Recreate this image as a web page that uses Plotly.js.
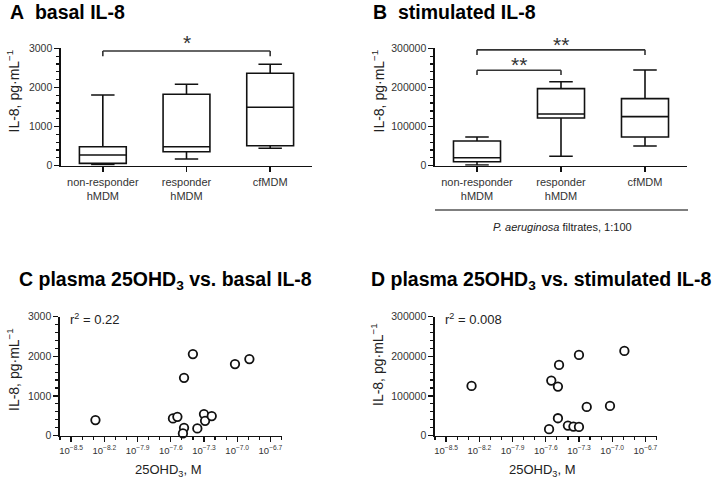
<!DOCTYPE html>
<html>
<head>
<meta charset="utf-8">
<script src="https://cdn.plot.ly/plotly-3.0.1.min.js"></script>
<style>html,body{margin:0;padding:0;background:#fff;}#chart{width:712px;height:479px;}</style>
</head>
<body>
<div id="chart"></div>
<script>
// ---- Data ----
const groups = ['non-responder<br>hMDM', 'responder<br>hMDM', 'cfMDM'];

// A: basal IL-8 (pg/mL) box summaries
const basalMin    = [30, 171, 445];
const basalQ1     = [60, 358, 511];
const basalMedian = [273, 486, 1492];
const basalQ3     = [486, 1825, 2361];
const basalMax    = [1806, 2080, 2592];

// B: stimulated IL-8 (pg/mL) box summaries
const stimMin    = [1800, 24000, 50300];
const stimQ1     = [10200, 122000, 73400];
const stimMedian = [20500, 132200, 125300];
const stimQ3     = [63000, 196900, 171300];
const stimMax    = [73500, 214700, 244600];

// C: plasma 25OHD3 (log10 M) vs basal IL-8
const vitD_C   = [-8.28, -7.58, -7.54, -7.48, -7.40, -7.48, -7.49, -7.36, -7.30, -7.29, -7.23, -7.02, -6.89];
const basalC   = [391, 433, 474, 1457, 2054, 197, 55, 181, 542, 373, 492, 1802, 1928];

// D: plasma 25OHD3 (log10 M) vs stimulated IL-8
const vitD_D   = [-8.27, -7.57, -7.55, -7.48, -7.49, -7.49, -7.40, -7.35, -7.30, -7.30, -7.23, -7.02, -6.89];
const stimD    = [125300, 16100, 138700, 178200, 123500, 43800, 25200, 22700, 21900, 203400, 72400, 74900, 213500];

// log-axis ticks: first tick exponent and spacing (labels drawn as 10^exponent)
const logTickStart = -8.5;
const logTickStep = 0.3;

const rSqC = '0.22';
const rSqD = '0.008';

// ---- Styling ----
const W = 712, H = 479;
const FONT = 'Liberation Sans, Arial, Helvetica, sans-serif';
const INK = '#111';
const TICKC = '#333';
const px = v => v / W;
const py = v => 1 - v / H;

const boxStyle = {
  type: 'box', boxpoints: false, width: 0.56, whiskerwidth: 0.5,
  fillcolor: 'rgba(255,255,255,0)', line: {color: INK, width: 1.6},
  showlegend: false, hoverinfo: 'skip'
};
const idx = groups.map((g, i) => i);

const traces = [
  Object.assign({}, boxStyle, {x: idx, q1: basalQ1, median: basalMedian, q3: basalQ3,
    lowerfence: basalMin, upperfence: basalMax, xaxis: 'x', yaxis: 'y'}),
  Object.assign({}, boxStyle, {x: idx, q1: stimQ1, median: stimMedian, q3: stimQ3,
    lowerfence: stimMin, upperfence: stimMax, xaxis: 'x2', yaxis: 'y2'}),
  {type: 'scatter', mode: 'markers', x: vitD_C, y: basalC, xaxis: 'x3', yaxis: 'y3',
    marker: {symbol: 'circle', size: 8.5, color: '#fff', line: {color: INK, width: 1.8}},
    showlegend: false, cliponaxis: false, hoverinfo: 'skip'},
  {type: 'scatter', mode: 'markers', x: vitD_D, y: stimD, xaxis: 'x4', yaxis: 'y4',
    marker: {symbol: 'circle', size: 8.5, color: '#fff', line: {color: INK, width: 1.8}},
    showlegend: false, cliponaxis: false, hoverinfo: 'skip'}
];

const tickFont = {family: FONT, size: 10.5, color: TICKC};
const minorTicks = {ticks: 'outside', ticklen: 3, tickwidth: 1.2, tickcolor: INK, showgrid: false};
const baseAxis = {
  showline: true, linecolor: INK, linewidth: 1.6, zeroline: false, showgrid: false,
  ticks: 'outside', ticklen: 5, tickwidth: 1.4, tickcolor: INK, tickfont: tickFont, fixedrange: true
};
const catX = (domain, anchor) => Object.assign({}, baseAxis, {
  domain: domain, anchor: anchor, range: [-0.5, 2.5],
  tickmode: 'array', tickvals: idx, ticktext: groups,
  tickfont: {family: FONT, size: 11, color: TICKC}
});
const logX = (domain, anchor) => Object.assign({}, baseAxis, {
  domain: domain, anchor: anchor, range: [-8.6, -6.6],
  tickmode: 'linear', tick0: logTickStart, dtick: logTickStep, tickformat: '.1f',
  tickprefix: '10<sup>', ticksuffix: '</sup>',
  tickfont: {family: FONT, size: 9.5, color: TICKC},
  minor: Object.assign({tick0: -8.6, dtick: 0.1}, minorTicks)
});
const valY = (domain, anchor, top) => Object.assign({}, baseAxis, {
  domain: domain, anchor: anchor, range: [0, top],
  tickmode: 'linear', tick0: 0, dtick: top / 3, tickformat: 'd',
  minor: Object.assign({tick0: 0, dtick: top / 15}, minorTicks)
});

const yTopRow = [py(165.7), py(48.3)];
const yBotRow = [py(435.6), py(316.6)];

const layout = {
  width: W, height: H, autosize: false,
  margin: {l: 0, r: 0, t: 0, b: 0, pad: 0},
  paper_bgcolor: '#fff', plot_bgcolor: 'rgba(0,0,0,0)',
  showlegend: false,
  font: {family: FONT, color: INK},
  xaxis:  catX([px(61), px(312)], 'y'),
  yaxis:  valY(yTopRow, 'x', 3000),
  xaxis2: catX([px(435), px(687)], 'y2'),
  yaxis2: valY(yTopRow, 'x2', 300000),
  xaxis3: logX([px(60), px(281.5)], 'y3'),
  yaxis3: valY(yBotRow, 'x3', 3000),
  xaxis4: logX([px(435), px(656.5)], 'y4'),
  yaxis4: valY(yBotRow, 'x4', 300000),
  shapes: [],
  annotations: []
};

// significance brackets
function bracket(xa, ya, x0, x1, yTop, yLow) {
  const st = {type: 'line', xref: xa, yref: ya, line: {color: '#333', width: 1.6}};
  layout.shapes.push(Object.assign({}, st, {x0: x0, x1: x0, y0: yLow, y1: yTop}));
  layout.shapes.push(Object.assign({}, st, {x0: x0, x1: x1, y0: yTop, y1: yTop}));
  layout.shapes.push(Object.assign({}, st, {x0: x1, x1: x1, y0: yTop, y1: yLow}));
}
bracket('x', 'y', 0, 2, 2930, 2800);
bracket('x2', 'y2', 0, 2, 296000, 283000);
bracket('x2', 'y2', 0, 1, 244000, 232000);

// significance stars (x in category units, y in page pixels)
function star(xa, x, ypix, t) {
  layout.annotations.push({xref: xa, yref: 'paper', x: x, y: py(ypix), text: t, showarrow: false,
    xanchor: 'center', yanchor: 'middle', font: {family: FONT, size: 21, color: '#333'}});
}
star('x', 1, 42.5, '*');
star('x2', 1, 44, '**');
star('x2', 0.5, 64, '**');

// P. aeruginosa line and label under B
layout.shapes.push({type: 'line', xref: 'paper', yref: 'paper', x0: px(435), x1: px(688), y0: py(210), y1: py(210),
  line: {color: '#555', width: 1.6}});

function textAt(x, y, text, size, opts) {
  layout.annotations.push(Object.assign({
    xref: 'paper', yref: 'paper', x: px(x), y: py(y), text: text, showarrow: false,
    xanchor: 'left', yanchor: 'middle', font: {family: FONT, size: size, color: INK}
  }, opts || {}));
}
textAt(562, 227, '<i>P. aeruginosa</i> filtrates, 1:100', 11, {xanchor: 'center', font: {family: FONT, size: 11, color: '#222'}});

// panel titles
textAt(8, 12, '<b>A\u00a0 basal IL-8</b>', 19.5, {font: {family: FONT, size: 19.5, color: '#000'}});
textAt(371, 12, '<b>B\u00a0 stimulated IL-8</b>', 19.5, {font: {family: FONT, size: 19.5, color: '#000'}});
textAt(17, 280, '<b>C plasma 25OHD<sub>3</sub> vs. basal IL-8</b>', 19.5, {font: {family: FONT, size: 19.5, color: '#000'}});
textAt(369, 280, '<b>D plasma 25OHD<sub>3</sub> vs. stimulated IL-8</b>', 19.5, {font: {family: FONT, size: 19.5, color: '#000'}});

// axis titles
const yTitle = 'IL-8, pg·mL<sup>−1</sup>';
const yt = {xanchor: 'center', yanchor: 'middle', textangle: -90, font: {family: FONT, size: 14, color: '#222'}};
textAt(13.5, 91, yTitle, 14, yt);
textAt(378.5, 91, yTitle, 14, yt);
textAt(13, 370, yTitle, 14, yt);
textAt(377, 365, yTitle, 14, yt);
const xt = {xanchor: 'center', yanchor: 'middle', font: {family: FONT, size: 13, color: '#222'}};
textAt(168, 470, '25OHD<sub>3</sub>, M', 13, xt);
textAt(542, 470, '25OHD<sub>3</sub>, M', 13, xt);

// r^2 labels
const rt = {xanchor: 'left', yanchor: 'middle', font: {family: FONT, size: 13, color: '#222'}};
textAt(68, 319, 'r<sup>2</sup> = ' + rSqC, 13, rt);
textAt(443, 319, 'r<sup>2</sup> = ' + rSqD, 13, rt);

Plotly.newPlot('chart', traces, layout, {displayModeBar: false, staticPlot: true});
</script>
</body>
</html>
